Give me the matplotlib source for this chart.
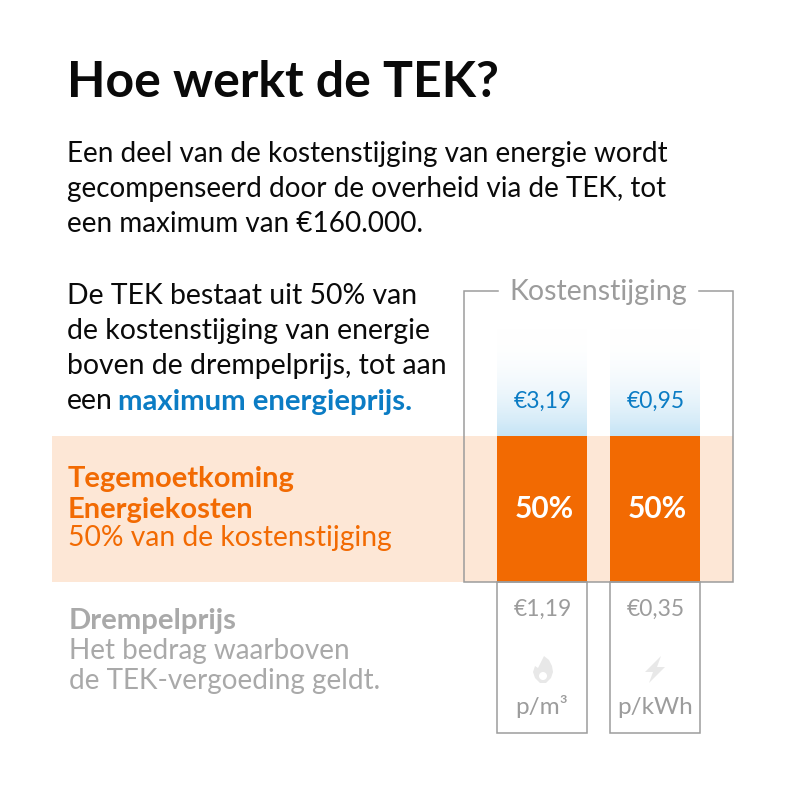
import numpy as np
import matplotlib
matplotlib.use("Agg")
from matplotlib import pyplot as plt
from matplotlib.patches import Rectangle, Polygon, Circle

plt.rcParams['font.family'] = ['Lato', 'DejaVu Sans']

BLACK = "#0a0a0a"
GREY = "#9c9c9c"
LIGHT_GREY = "#a9a9a9"
ICON_GREY = "#e8e8e8"
ORANGE = "#f26a02"
PEACH = "#fde7d6"
BLUE = "#0b7cc4"

title = "Hoe werkt de TEK?"
intro_lines = ["Een deel van de kostenstijging van energie wordt",
               "gecompenseerd door de overheid via de TEK, tot",
               "een maximum van €160.000."]
explain_lines = ["De TEK bestaat uit 50% van",
                 "de kostenstijging van energie",
                 "boven de drempelprijs, tot aan",
                 "een"]
explain_bold = "maximum energieprijs."
tek_bold = ["Tegemoetkoming", "Energiekosten"]
tek_sub = "50% van de kostenstijging"
drempel_bold = "Drempelprijs"
drempel_lines = ["Het bedrag waarboven", "de TEK-vergoeding geldt."]
frame_label = "Kostenstijging"

max_prices = ["€3,19", "€0,95"]
shares = ["50%", "50%"]
threshold_prices = ["€1,19", "€0,35"]
units = ["p/m³", "p/kWh"]

fig = plt.figure(figsize=(8, 8), dpi=100)
ax = fig.add_axes([0, 0, 1, 1])
ax.set_xlim(0, 800)
ax.set_ylim(800, 0)
ax.axis("off")

bar_x = [497, 610]
bar_w = 90

# peach band and orange bars
ax.add_patch(Rectangle((52, 436), 681, 146, color=PEACH, lw=0, zorder=1))
for x in bar_x:
    ax.add_patch(Rectangle((x, 436), bar_w, 146, color=ORANGE, lw=0, zorder=2))
    # blue fade above the bars
    fade = np.linspace(0, 1, 100).reshape(-1, 1) ** 2.2
    rgb = np.array([0xc6, 0xe4, 0xf5]) / 255
    img = np.ones((100, 1, 3)) * (1 - fade[:, :, None]) + rgb * fade[:, :, None]
    ax.imshow(img, extent=(x, x + bar_w, 436, 328), aspect="auto", zorder=1)
    # lower boxes
    ax.add_patch(Rectangle((x, 582), bar_w, 151, fill=False, ec=GREY, lw=1.1, zorder=3))
ax.set_xlim(0, 800)
ax.set_ylim(800, 0)

# frame round Kostenstijging
ax.plot([498, 464, 464, 733, 733, 699], [291, 291, 582, 582, 291, 291],
        color=GREY, lw=1.1, zorder=3, solid_joinstyle="miter")

ax.text(67, 97, title, fontsize=36, fontweight="bold", color=BLACK, va="baseline")

for i, line in enumerate(intro_lines):
    ax.text(67, 162 + i * 35, line, fontsize=20.1, color=BLACK, va="baseline")
for i, line in enumerate(explain_lines):
    ax.text(67, 304 + i * 35, line, fontsize=20.4, color=BLACK, va="baseline")
ax.text(118, 410, explain_bold, fontsize=21.2, fontweight="bold", color=BLUE, va="baseline")

for i, line in enumerate(tek_bold):
    ax.text(68, 487 + i * 31, line, fontsize=21, fontweight="bold", color=ORANGE, va="baseline")
ax.text(68, 546, tek_sub, fontsize=20.3, color=ORANGE, va="baseline")

ax.text(69, 629, drempel_bold, fontsize=21.1, fontweight="bold", color=LIGHT_GREY, va="baseline")
for i, line in enumerate(drempel_lines):
    ax.text(69, 659 + i * 30, line, fontsize=20.1, color=LIGHT_GREY, va="baseline")

ax.text(598, 300, frame_label, fontsize=20.5, color=GREY, ha="center", va="baseline")

for x, mp, sh, tp, un in zip(bar_x, max_prices, shares, threshold_prices, units):
    cx = x + bar_w / 2
    ax.text(cx + 1, 408, mp, fontsize=16.5, color=BLUE, ha="center", va="baseline", zorder=4)
    ax.text(cx + 2, 518, sh, fontsize=21.5, fontweight="bold", color="white", ha="center", va="baseline", zorder=4)
    ax.text(cx + 1, 616, tp, fontsize=16.5, color=GREY, ha="center", va="baseline", zorder=4)
    ax.text(cx, 714, un, fontsize=17.5, color=GREY, ha="center", va="baseline", zorder=4)

# flame icon
ax.add_patch(Polygon([(544, 656), (549, 660), (552, 666), (553, 672), (551, 678), (546, 683),
                      (540, 683), (535, 678), (533, 672), (535, 666), (538, 668), (541, 662)],
                     closed=True, color=ICON_GREY, lw=0, zorder=4))
ax.add_patch(Circle((543, 676), 4, color="white", lw=0, zorder=5))
# bolt icon
ax.add_patch(Polygon([(661, 656), (645, 672), (653, 672), (649, 683), (665, 667), (657, 667)],
                     closed=True, color=ICON_GREY, lw=0, zorder=4))

fig.savefig("out.png", dpi=100)
